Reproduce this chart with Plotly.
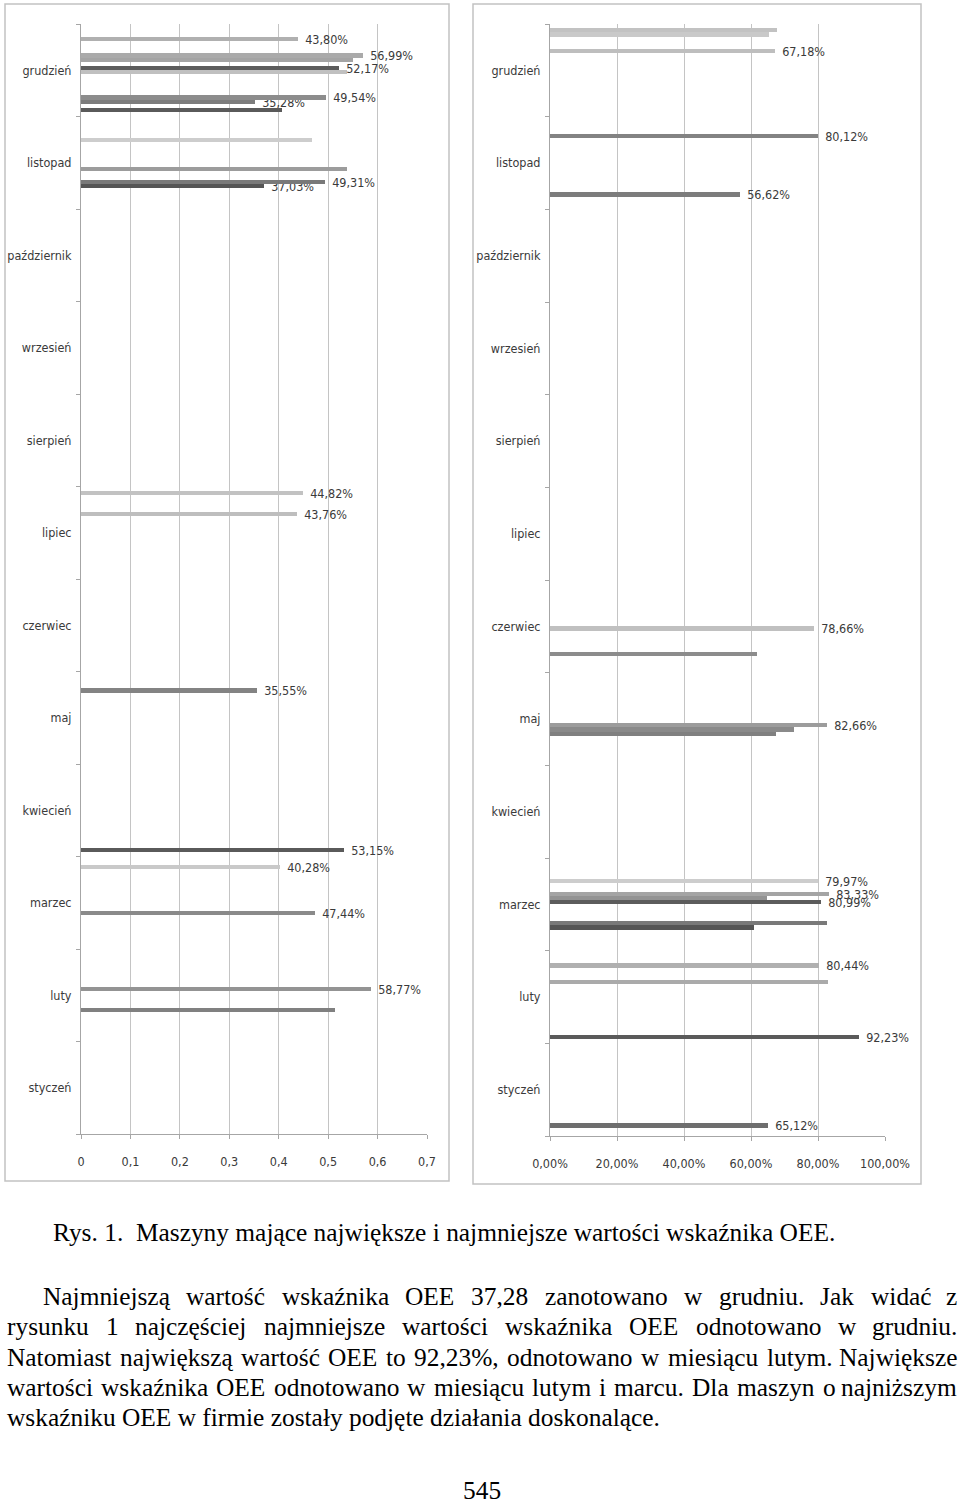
import plotly.graph_objects as go

# ---------------- data ----------------
MONTHS = ["styczeń", "luty", "marzec", "kwiecień", "maj", "czerwiec", "lipiec",
          "sierpień", "wrzesień", "październik", "listopad", "grudzień"]
N_MACHINES = 22

# left chart (OEE as fraction)
LEFT_MONTH = ["grudzień"] * 8 + ["listopad"] * 4 + ["lipiec"] * 2 + \
             ["maj", "kwiecień", "marzec", "marzec", "luty", "luty"]
LEFT_MACHINE = [1, 3, 4, 10, 11, 13, 14, 18,
                5, 6, 9, 16,
                15, 20,
                17, 1, 8, 19, 7, 12]
LEFT_OEE = [0.406, 0.3528, 0.4954, 0.5375, 0.5217, 0.5497, 0.5699, 0.4380,
            0.3703, 0.4931, 0.5375, 0.4673,
            0.4376, 0.4482,
            0.3555, 0.5315, 0.4744, 0.4028, 0.514, 0.5877]
LEFT_LABELED = [0, 1, 1, 0, 1, 0, 1, 1,
                1, 1, 0, 0,
                1, 1,
                1, 1, 1, 1, 0, 1]

# right chart (OEE as fraction)
RIGHT_MONTH = ["grudzień"] * 3 + ["listopad"] * 2 + ["czerwiec"] * 2 + ["maj"] * 3 + \
              ["marzec"] * 6 + ["luty"] * 3 + ["styczeń"]
RIGHT_MACHINE = [15, 19, 20,
                 3, 17,
                 4, 10,
                 7, 8, 9,
                 5, 6, 11, 12, 13, 16,
                 1, 14, 18,
                 2]
RIGHT_OEE = [0.6718, 0.654, 0.677,
             0.5662, 0.8012,
             0.619, 0.7866,
             0.676, 0.728, 0.8266,
             0.61, 0.826, 0.8099, 0.647, 0.8333, 0.7997,
             0.9223, 0.829, 0.8044,
             0.6512]
RIGHT_LABELED = [1, 0, 0,
                 1, 1,
                 0, 1,
                 0, 0, 1,
                 0, 0, 1, 0, 1, 1,
                 1, 0, 1,
                 1]

LEFT_TICKS = [0, 0.1, 0.2, 0.3, 0.4, 0.5, 0.6, 0.7]
RIGHT_TICKS = [0, 0.2, 0.4, 0.6, 0.8, 1.0]

CAPTION = "Rys. 1.\u00a0 Maszyny mające największe i najmniejsze wartości wskaźnika OEE."
PARAGRAPH_JUSTIFIED = [
    "Najmniejszą wartość wskaźnika OEE 37,28 zanotowano w grudniu. Jak widać z",
    "rysunku 1 najczęściej najmniejsze wartości wskaźnika OEE odnotowano w grudniu.",
    "Natomiast największą wartość OEE to 92,23%, odnotowano w miesiącu lutym. Największe",
    "wartości wskaźnika OEE odnotowano w miesiącu lutym i marcu. Dla maszyn o najniższym",
]
PARAGRAPH_LAST = "wskaźniku OEE w firmie zostały podjęte działania doskonalące."
PAGE_NUMBER = "545"

# ---------------- style ----------------
COLORS = ["#999999", "#5a5a5a", "#6e6e6e", "#7c7c7c", "#8c8c8c", "#555555",
          "#797979", "#808080", "#8a8a8a", "#9c9c9c", "#c0c0c0", "#5c5c5c",
          "#939393", "#a4a4a4", "#aaaaaa", "#bebebe", "#cdcdcd", "#838383",
          "#b0b0b0", "#c9c9c9", "#c2c2c2", "#999999"]
TXT = "#3a3a3a"
SANS = "DejaVu Sans Condensed, Liberation Sans Narrow, sans-serif"
FONT = dict(family=SANS, size=12.5, color=TXT)
SERIF = "Liberation Serif, Times New Roman, serif"
W, H = 960, 1502


def px(x):
    return x / W


def py(y):
    return 1 - y / H


def pct(v):
    return f"{v * 100:.2f}".replace(".", ",") + "%"


fig = go.Figure()

panels = [
    (LEFT_MONTH, LEFT_MACHINE, LEFT_OEE, LEFT_LABELED, "x", "y"),
    (RIGHT_MONTH, RIGHT_MACHINE, RIGHT_OEE, RIGHT_LABELED, "x2", "y2"),
]
for months, machines, vals, labeled, xa, ya in panels:
    for k in range(N_MACHINES):
        xs = [None] * len(MONTHS)
        texts = [""] * len(MONTHS)
        for m, mk, v, lb in zip(months, machines, vals, labeled):
            if mk == k:
                i = MONTHS.index(m)
                xs[i] = v
                texts[i] = "\u00a0\u00a0" + pct(v) if lb else ""
        fig.add_trace(go.Bar(
            x=xs, y=MONTHS, orientation="h", xaxis=xa, yaxis=ya,
            marker=dict(color=COLORS[k], line=dict(width=0)),
            text=texts, textposition="outside", constraintext="none",
            outsidetextfont=FONT,
            cliponaxis=False, showlegend=False, hoverinfo="skip",
        ))

axis_common = dict(
    showgrid=True, gridcolor="#c4c4c4", gridwidth=1, zeroline=False,
    showline=True, linecolor="#a6a6a6", linewidth=1,
    ticks="outside", ticklen=4, tickcolor="#a6a6a6", fixedrange=True,
    tickfont=FONT, ticklabelstandoff=12,
)
yaxis_common = dict(
    type="category", categoryorder="array", categoryarray=MONTHS,
    tickson="boundaries", ticks="outside", ticklen=4, tickcolor="#a6a6a6",
    showline=True, linecolor="#a6a6a6", linewidth=1, showgrid=False,
    zeroline=False, ticklabelstandoff=6, tickfont=FONT, fixedrange=True,
)

fig.update_layout(
    width=W, height=H,
    margin=dict(l=0, r=0, t=0, b=0, autoexpand=False),
    paper_bgcolor="white", plot_bgcolor="white",
    barmode="group", bargap=0, bargroupgap=0,
    separators=", ",
    font=FONT,
    xaxis=dict(domain=[px(81), px(427)], range=[0, 0.7], anchor="y",
               tickvals=LEFT_TICKS, **axis_common),
    yaxis=dict(domain=[py(1134), py(24)], anchor="x", **yaxis_common),
    xaxis2=dict(domain=[px(550), px(885)], range=[0, 1.0], anchor="y2",
                tickvals=RIGHT_TICKS, tickformat=".2%", **axis_common),
    yaxis2=dict(domain=[py(1136), py(24)], anchor="x2", **yaxis_common),
)

# chart frames
for x0, x1, y0, y1 in [(5, 449, 4, 1181), (473, 921, 4, 1184)]:
    fig.add_shape(type="rect", xref="paper", yref="paper",
                  x0=px(x0), x1=px(x1), y0=py(y1), y1=py(y0),
                  line=dict(color="#c2c2c2", width=1.5), fillcolor="rgba(0,0,0,0)")

# ---------------- text below the chart ----------------
TIMES_W = {" ": 250, "!": 333, "%": 833, ",": 250, "-": 333, ".": 250, ":": 278,
           "\u00a0": 250}
for d in "0123456789":
    TIMES_W[d] = 500
TIMES_W.update(dict(zip("ABCDEFGHIJKLMNOPQRSTUVWXYZ",
                        [722, 667, 667, 722, 611, 556, 722, 722, 333, 389, 722, 611, 889,
                         722, 722, 556, 722, 667, 556, 611, 722, 722, 944, 722, 722, 611])))
TIMES_W.update(dict(zip("abcdefghijklmnopqrstuvwxyz",
                        [444, 500, 444, 500, 444, 333, 500, 500, 278, 278, 500, 278, 778,
                         500, 500, 500, 500, 333, 389, 278, 500, 500, 722, 500, 500, 444])))
TIMES_W.update({"ą": 444, "ć": 444, "ę": 444, "ł": 278, "ń": 500, "ó": 500,
                "ś": 389, "ź": 444, "ż": 444})
FS = 25.4


def word_w(s):
    return sum(TIMES_W.get(c, 500) for c in s) * FS / 1000.0


def add_text(text, x, y, anchor="left"):
    fig.add_annotation(text=text, x=px(x), y=py(y), xref="paper", yref="paper",
                       xanchor=anchor, yanchor="middle", showarrow=False,
                       borderpad=0, font=dict(family=SERIF, size=FS, color="black"))


add_text(CAPTION, 52, 1232)

line_y = [1296, 1326, 1357, 1387]
line_left = [42, 6, 6, 6]
RIGHT_EDGE = 958
for line, yv, left in zip(PARAGRAPH_JUSTIFIED, line_y, line_left):
    words = line.split(" ")
    widths = [word_w(w) for w in words]
    gap = (RIGHT_EDGE - left - sum(widths)) / (len(words) - 1)
    xpos = left
    for i, w in enumerate(words):
        if i == len(words) - 1:
            add_text(w, RIGHT_EDGE, yv, anchor="right")
        else:
            add_text(w, xpos, yv)
        xpos += widths[i] + gap

add_text(PARAGRAPH_LAST, 6, 1417)
add_text(PAGE_NUMBER, 482, 1490, anchor="center")

fig.write_html(
    "out.html",
    config={"displayModeBar": False},
    post_script="document.body.style.margin='0';document.body.style.overflow='hidden';",
)
